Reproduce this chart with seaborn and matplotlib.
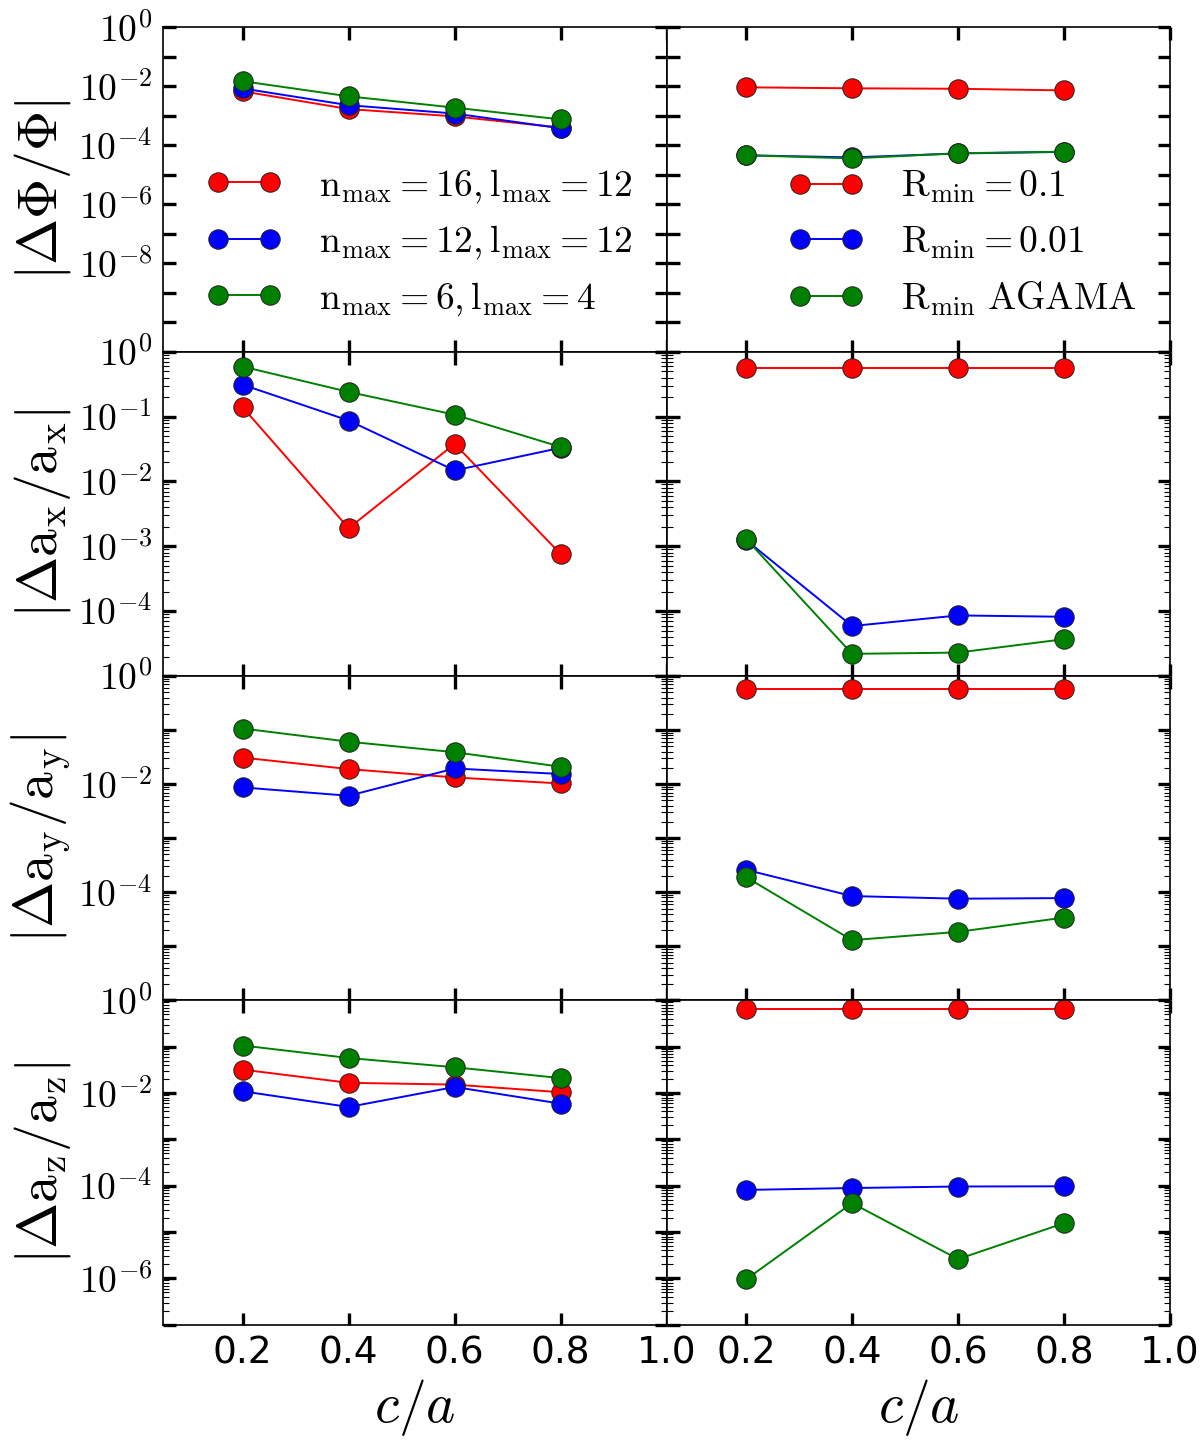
import numpy as np
import seaborn as sns
import matplotlib.pyplot as plt
from matplotlib.ticker import LogLocator, FuncFormatter, NullLocator

sns.set_style('ticks')
plt.rcParams['font.family'] = ['DejaVu Sans']
plt.rcParams['mathtext.fontset'] = 'cm'
plt.rcParams['axes.linewidth'] = 1.2
for k in ['text.color', 'axes.labelcolor', 'xtick.color', 'ytick.color', 'axes.edgecolor']:
    plt.rcParams[k] = 'black'

# asse x comune
ca = [0.2, 0.4, 0.6, 0.8]

# colonna sinistra: espansione in base (n_max, l_max)
phi_n16 = [6.8e-3, 1.7e-3, 9.6e-4, 4.0e-4]
phi_n12 = [8.5e-3, 2.3e-3, 1.2e-3, 3.8e-4]
phi_n6 = [1.5e-2, 4.6e-3, 1.9e-3, 7.6e-4]
ax_n16 = [0.139, 1.9e-3, 0.038, 7.6e-4]
ax_n12 = [0.31, 0.087, 0.0148, 0.033]
ax_n6 = [0.59, 0.24, 0.107, 0.034]
ay_n16 = [0.031, 0.019, 0.0133, 0.0103]
ay_n12 = [8.7e-3, 6.1e-3, 0.0195, 0.0154]
ay_n6 = [0.107, 0.061, 0.039, 0.021]
az_n16 = [0.032, 0.0166, 0.0152, 0.0104]
az_n12 = [0.0109, 5.0e-3, 0.0135, 5.9e-3]
az_n6 = [0.106, 0.057, 0.036, 0.021]

# colonna destra: R_min
phi_r01 = [9.3e-3, 8.6e-3, 8.3e-3, 7.3e-3]
phi_r001 = [4.6e-5, 3.9e-5, 5.3e-5, 6.0e-5]
phi_agama = [4.6e-5, 3.6e-5, 5.4e-5, 6.1e-5]
ax_r01 = [0.56, 0.56, 0.56, 0.56]
ax_r001 = [1.25e-3, 5.9e-5, 8.6e-5, 8.2e-5]
ax_agama = [1.3e-3, 2.2e-5, 2.3e-5, 3.7e-5]
ay_r01 = [0.57, 0.57, 0.57, 0.57]
ay_r001 = [2.6e-4, 8.5e-5, 7.6e-5, 7.8e-5]
ay_agama = [1.9e-4, 1.3e-5, 1.85e-5, 3.4e-5]
az_r01 = [0.64, 0.64, 0.64, 0.64]
az_r001 = [8.1e-5, 8.9e-5, 9.6e-5, 9.7e-5]
az_agama = [9.5e-7, 4.2e-5, 2.6e-6, 1.55e-5]

left_labels = [r'$\mathrm{n_{max}=16, l_{max}=12}$',
               r'$\mathrm{n_{max}=12, l_{max}=12}$',
               r'$\mathrm{n_{max}=6, l_{max}=4}$']
right_labels = [r'$\mathrm{R_{min}=0.1}$',
                r'$\mathrm{R_{min}=0.01}$',
                r'$\mathrm{R_{min}}\ \mathrm{AGAMA}$']
colors = ['#ff0000', '#0000ff', '#008000']

ylabels = [r'$|\Delta\Phi/\Phi|$',
           r'$|\Delta \mathrm{a_x}/\mathrm{a_x}|$',
           r'$|\Delta \mathrm{a_y}/\mathrm{a_y}|$',
           r'$|\Delta \mathrm{a_z}/\mathrm{a_z}|$']
ylims = [(1e-11, 1), (1e-5, 1), (1e-6, 1), (1e-7, 1)]
label_exps = [[0, -2, -4, -6, -8], [0, -1, -2, -3, -4], [0, -2, -4], [0, -2, -4, -6]]

left_rows = [[phi_n16, phi_n12, phi_n6], [ax_n16, ax_n12, ax_n6],
             [ay_n16, ay_n12, ay_n6], [az_n16, az_n12, az_n6]]
right_rows = [[phi_r01, phi_r001, phi_agama], [ax_r01, ax_r001, ax_agama],
              [ay_r01, ay_r001, ay_agama], [az_r01, az_r001, az_agama]]

fig, axes = plt.subplots(4, 2, sharex=True, sharey='row', figsize=(12, 14.43), dpi=100)
plt.subplots_adjust(left=0.136, right=0.975, top=0.981, bottom=0.082, hspace=0, wspace=0)


def make_fmt(exps):
    def fmt(v, pos):
        e = int(round(np.log10(v)))
        return r'$10^{%d}$' % e if e in exps else ''
    return fmt


for i in range(4):
    for j, (rows, labels) in enumerate([(left_rows, left_labels), (right_rows, right_labels)]):
        ax = axes[i, j]
        ax.set_yscale('log')
        for vals, c, lab in zip(rows[i], colors, labels):
            sns.lineplot(x=ca, y=vals, ax=ax, color=c, marker='o', markersize=14,
                         markeredgecolor='#222222', markeredgewidth=0.7, linewidth=1.4,
                         label=lab if i == 0 else None, legend=False)
        ax.set_ylim(*ylims[i])
        ax.set_xlim(0.05, 1.0)
        ax.set_xticks([0.2, 0.4, 0.6, 0.8, 1.0])
        ax.yaxis.set_major_locator(LogLocator(base=10, numticks=30))
        ax.yaxis.set_major_formatter(FuncFormatter(make_fmt(label_exps[i])))
        if i == 0:
            ax.yaxis.set_minor_locator(NullLocator())
        else:
            ax.yaxis.set_minor_locator(LogLocator(base=10, subs=np.arange(2, 10), numticks=30))
        ax.tick_params(which='both', direction='in', top=True, right=True)
        ax.tick_params(which='major', length=9, width=2.4, labelsize=27, pad=8)
        ax.tick_params(which='minor', length=4, width=0.8)
        ax.set_xlabel('')
        ax.set_ylabel('')
        if i == 0:
            ax.legend(loc='lower right', frameon=False, numpoints=2, fontsize=27,
                      handlelength=2.0, handletextpad=1.0, borderaxespad=0.5)
    axes[i, 0].set_ylabel(ylabels[i], fontsize=40, labelpad=4)

for ax in axes[3]:
    ax.set_xlabel(r'$c/a$', fontsize=40)

fig.savefig('out.png', dpi=100)
